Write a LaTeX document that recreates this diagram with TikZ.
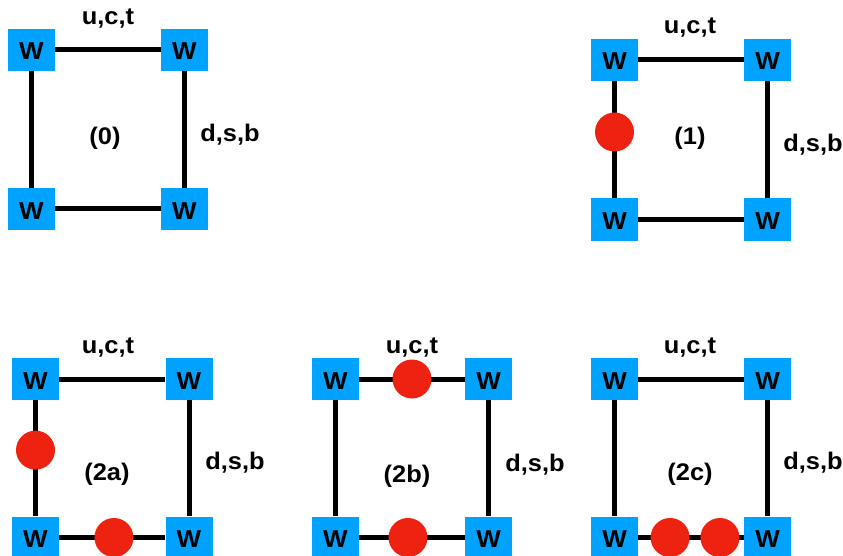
\documentclass[tikz,border=0pt]{standalone}
\usepackage{fontspec}
\setmainfont{Liberation Sans}[FakeStretch=1.06]
\definecolor{wblue}{RGB}{0,162,255}
\definecolor{dotred}{RGB}{238,34,17}
\tikzset{
  wbox/.style={fill=wblue, minimum width=47pt, minimum height=42pt, inner sep=0pt,
    font=\bfseries\fontsize{24.5}{28}\selectfont, text height=20pt, text depth=0pt},
  edge/.style={line width=5pt, black},
  dot/.style={circle, fill=dotred, minimum size=39pt, inner sep=0pt},
  lbl/.style={anchor=base, font=\bfseries\fontsize{24}{28}\selectfont, inner sep=0pt}
}
\begin{document}
\begin{tikzpicture}[x=1pt,y=-1pt]
\path[use as bounding box] (0,0) rectangle (843,556);
\clip (0,0) rectangle (843,556);

% ---------- (0)
\node[wbox] (a-tl) at (31.5,50) {W};
\node[wbox] (a-tr) at (184.5,50) {W};
\node[wbox] (a-bl) at (31.5,209) {W};
\node[wbox] (a-br) at (184.5,209) {W};
\draw[edge] (a-tl) -- (a-tr);
\draw[edge] (a-tr) -- (a-br);
\draw[edge] (a-br) -- (a-bl);
\draw[edge] (a-bl) -- (a-tl);
\node[lbl] (a-u) at (108,25) {u,c,t};
\node[lbl] (a-n) at (105,145) {(0)};
\node[lbl] (a-d) at (230,142) {d,s,b};

% ---------- (1)
\node[wbox] (b-tl) at (614.5,60) {W};
\node[wbox] (b-tr) at (767.5,60) {W};
\node[wbox] (b-bl) at (614.5,219.5) {W};
\node[wbox] (b-br) at (767.5,219.5) {W};
\draw[edge] (b-tl) -- (b-tr);
\draw[edge] (b-tr) -- (b-br);
\draw[edge] (b-br) -- (b-bl);
\draw[edge] (b-tl) -- node[dot, pos=0.434] (b-c1) {} (b-bl);
\node[lbl] (b-u) at (690,34) {u,c,t};
\node[lbl] (b-n) at (690,145) {(1)};
\node[lbl] (b-d) at (813,152) {d,s,b};

% ---------- (2a)
\node[wbox] (c-tl) at (35.5,379) {W};
\node[wbox] (c-tr) at (189,379) {W};
\node[wbox] (c-bl) at (35.5,537.5) {W};
\node[wbox] (c-br) at (189,537.5) {W};
\draw[edge] (c-tl) -- (c-tr);
\draw[edge] (c-tr) -- (c-br);
\draw[edge] (c-bl) -- node[dot, pos=0.516] (c-c2) {} (c-br);
\draw[edge] (c-tl) -- node[dot, pos=0.43] (c-c1) {} (c-bl);
\node[lbl] (c-u) at (108,353) {u,c,t};
\node[lbl] (c-n) at (107,480) {(2a)};
\node[lbl] (c-d) at (235,469) {d,s,b};

% ---------- (2b)
\node[wbox] (d-tl) at (335.5,379) {W};
\node[wbox] (d-tr) at (488.5,379) {W};
\node[wbox] (d-bl) at (335.5,537.5) {W};
\node[wbox] (d-br) at (488.5,537.5) {W};
\draw[edge] (d-tl) -- node[dot, pos=0.5] (d-c1) {} (d-tr);
\draw[edge] (d-tr) -- (d-br);
\draw[edge] (d-bl) -- node[dot, pos=0.462] (d-c2) {} (d-br);
\draw[edge] (d-tl) -- (d-bl);
\node[lbl] (d-u) at (412,353) {u,c,t};
\node[lbl] (d-n) at (407,482) {(2b)};
\node[lbl] (d-d) at (535,471) {d,s,b};

% ---------- (2c)
\node[wbox] (e-tl) at (614.5,379) {W};
\node[wbox] (e-tr) at (767.5,379) {W};
\node[wbox] (e-bl) at (614.5,537.5) {W};
\node[wbox] (e-br) at (767.5,537.5) {W};
\draw[edge] (e-tl) -- (e-tr);
\draw[edge] (e-tr) -- (e-br);
\draw[edge] (e-bl) -- node[dot, pos=0.302] (e-c1) {} node[dot, pos=0.774] (e-c2) {} (e-br);
\draw[edge] (e-tl) -- (e-bl);
\node[lbl] (e-u) at (690,353) {u,c,t};
\node[lbl] (e-n) at (690,480) {(2c)};
\node[lbl] (e-d) at (813,469) {d,s,b};
\end{tikzpicture}
\end{document}
